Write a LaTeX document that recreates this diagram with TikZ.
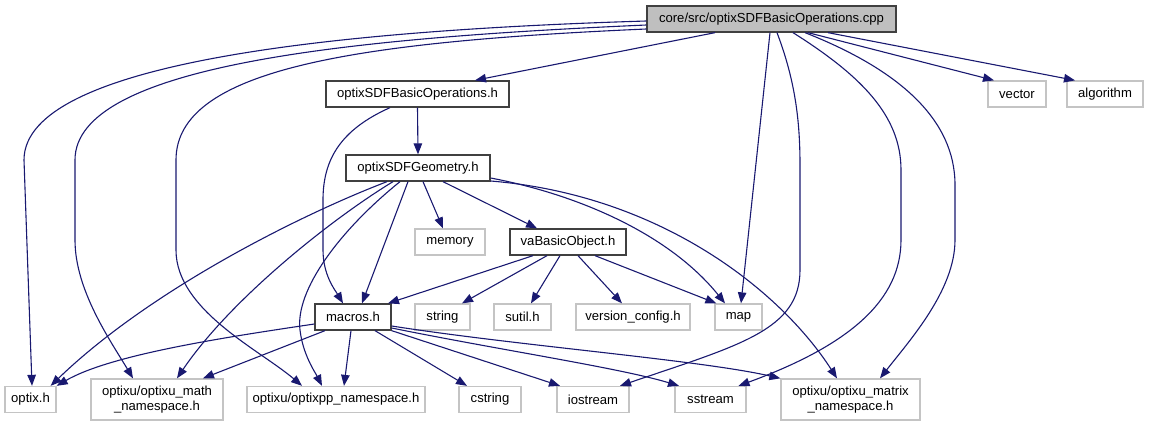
\documentclass[tikz,border=0pt]{standalone}
\usepackage{fontspec}
\setmainfont{Liberation Sans}
\usetikzlibrary{arrows.meta}
\definecolor{edgec}{HTML}{191970}
\definecolor{extc}{HTML}{C4C4C4}
\definecolor{rootfill}{HTML}{BFBFBF}
\definecolor{docline}{HTML}{404040}
\begin{document}
\begin{tikzpicture}[x=1pt,y=-1pt,
  font=\fontsize{13.1}{15.5}\selectfont,
  box/.style={draw, line width=1.3pt, inner sep=0pt, minimum height=26pt, align=center},
  docbox/.style={box, draw=docline, fill=white},
  extbox/.style={box, draw=extc, fill=white},
  rootbox/.style={box, draw=docline, fill=rootfill},
  edge/.style={draw=edgec, line width=1.1pt, -{Triangle[length=11pt,width=8.5pt]}}]
\useasboundingbox (0,0) rectangle (1149,425);
% nodes
\node[rootbox, minimum width=249pt] (root) at (771.5,19) {core/src/optixSDFBasicOperations.cpp};
\node[docbox, minimum width=183pt] (bops) at (417.5,94) {optixSDFBasicOperations.h};
\node[extbox, minimum width=58pt] (vector) at (1017,94) {vector};
\node[extbox, minimum width=76pt] (algorithm) at (1105,94) {algorithm};
\node[docbox, minimum width=144pt] (geom) at (418,168) {optixSDFGeometry.h};
\node[extbox, minimum width=70pt] (memory) at (450,242) {memory};
\node[docbox, minimum width=116pt] (vabo) at (568,242) {vaBasicObject.h};
\node[docbox, minimum width=76pt] (macros) at (353,317) {macros.h};
\node[extbox, minimum width=55pt] (string) at (442.5,317) {string};
\node[extbox, minimum width=57pt] (sutil) at (522.5,317) {sutil.h};
\node[extbox, minimum width=114pt] (version) at (633,317) {version\_config.h};
\node[extbox, minimum width=47pt] (map) at (738.5,317) {map};
\node[extbox, minimum width=51pt] (optix) at (30.5,399.5) {optix.h};
\node[extbox, minimum width=132pt, minimum height=41pt] (math) at (157,399.5) {optixu/optixu\_math\\\_namespace.h};
\node[extbox, minimum width=178pt] (optixpp) at (336,399.5) {optixu/optixpp\_namespace.h};
\node[extbox, minimum width=62pt] (cstring) at (490,399.5) {cstring};
\node[extbox, minimum width=72pt] (iostream) at (593,399.5) {iostream};
\node[extbox, minimum width=71pt] (sstream) at (710.5,399.5) {sstream};
\node[extbox, minimum width=139pt, minimum height=41pt] (matrix) at (850.5,399.5) {optixu/optixu\_matrix\\\_namespace.h};
% edges from root
\draw[edge] ([xshift=-56.5pt]root.south) -- ([xshift=57.5pt]bops.north);
\draw[edge] ([xshift=36.5pt]root.south) -- ([xshift=-23pt]vector.north);
\draw[edge] ([xshift=56.5pt]root.south) -- ([xshift=-30pt]algorithm.north);
\draw[edge] ([yshift=-2pt]root.west) .. controls (350,30) and (24,60) .. (24,160) -- ([xshift=1.5pt]optix.north);
\draw[edge] ([yshift=-6pt]root.west) .. controls (350,38) and (75,65) .. (75,160) -- (75,240) .. controls (75,290) and (110,340) .. ([xshift=-24pt]math.north);
\draw[edge] ([yshift=-10pt]root.west) .. controls (350,42) and (176,70) .. (176,160) -- (176,250) .. controls (176,310) and (260,350) .. ([xshift=-34pt]optixpp.north);
\draw[edge] ([xshift=-1.5pt]root.south) -- ([xshift=2.5pt]map.north);
\draw[edge] ([xshift=5.5pt]root.south) .. controls (795,80) and (800,120) .. (800,165) -- (800,270) .. controls (800,330) and (740,345) .. ([xshift=27pt]iostream.north);
\draw[edge] ([xshift=21.5pt]root.south) .. controls (860,75) and (901,115) .. (901,170) -- (901,240) .. controls (901,300) and (850,345) .. ([xshift=28pt]sstream.north);
\draw[edge] ([xshift=33.5pt]root.south) .. controls (900,70) and (955,120) .. (955,185) -- (955,240) .. controls (955,290) and (910,340) .. ([xshift=29.5pt]matrix.north);
% edges from optixSDFBasicOperations.h
\draw[edge] (bops.south) -- (geom.north);
\draw[edge] ([xshift=-27.5pt]bops.south) .. controls (340,130) and (323,160) .. (323,200) -- (323,250) .. controls (323,275) and (335,290) .. ([xshift=-10pt]macros.north);
% edges from optixSDFGeometry.h
\draw[edge] ([xshift=-31pt]geom.south) .. controls (300,215) and (150,290) .. ([xshift=-6pt]optix.north east);
\draw[edge] ([xshift=-25pt]geom.south) .. controls (330,220) and (230,300) .. ([xshift=20pt]math.north);
\draw[edge] ([xshift=-18pt]geom.south) .. controls (340,230) and (295,290) .. (300,330) .. controls (303,355) and (315,372) .. ([xshift=-14pt]optixpp.north);
\draw[edge] ([xshift=-10pt]geom.south) -- ([xshift=9pt]macros.north);
\draw[edge] ([xshift=5pt]geom.south) -- ([xshift=-7pt]memory.north);
\draw[edge] ([xshift=25pt]geom.south) -- ([xshift=-31pt]vabo.north);
\draw[edge] ([yshift=-10pt]geom.east) .. controls (580,195) and (670,235) .. ([xshift=-13.5pt]map.north);
\draw[edge] ([yshift=-13pt]geom.east) .. controls (660,195) and (780,290) .. ([xshift=-13.5pt]matrix.north);
% edges from vaBasicObject.h
\draw[edge] ([xshift=-35pt]vabo.south) -- ([xshift=35pt]macros.north);
\draw[edge] ([xshift=-21pt]vabo.south) -- ([xshift=19.5pt]string.north);
\draw[edge] ([xshift=-8pt]vabo.south) -- ([xshift=8.5pt]sutil.north);
\draw[edge] ([xshift=10pt]vabo.south) -- ([xshift=-11pt]version.north);
\draw[edge] ([xshift=27pt]vabo.south) -- ([xshift=2pt]map.north west);
% edges from macros.h
\draw[edge] ([yshift=-7pt]macros.west) .. controls (220,338) and (110,355) .. (optix.north east);
\draw[edge] ([xshift=-28pt]macros.south) -- ([xshift=46pt]math.north);
\draw[edge] ([xshift=-2pt]macros.south) -- ([xshift=8pt]optixpp.north);
\draw[edge] ([xshift=22pt]macros.south) -- ([xshift=-23pt]cstring.north);
\draw[edge] (macros.south east) -- ([xshift=-33pt]iostream.north);
\draw[edge] ([yshift=-11pt]macros.east) .. controls (500,350) and (620,368) .. ([xshift=-31.5pt]sstream.north);
\draw[edge] ([yshift=-9pt]macros.east) .. controls (520,346) and (700,360) .. (matrix.north west);
\end{tikzpicture}
\end{document}
